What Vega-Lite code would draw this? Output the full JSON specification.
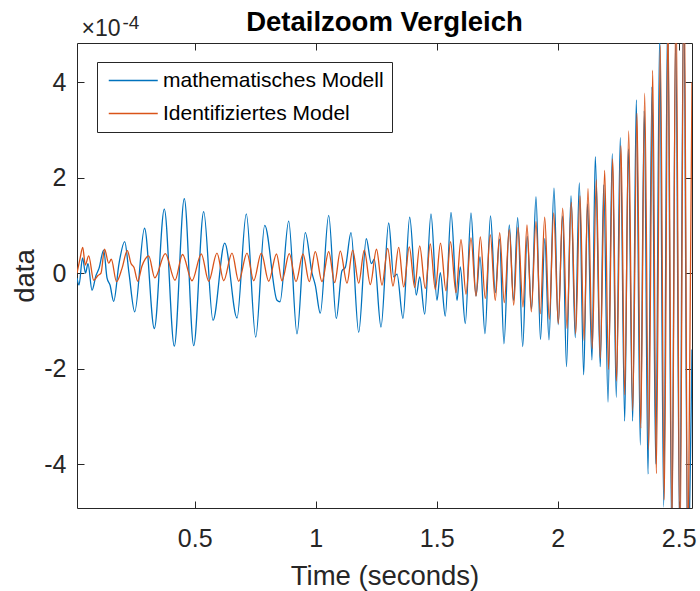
{
  "$schema": "https://vega.github.io/schema/vega-lite/v6.json",
  "width": 615,
  "height": 465,
  "autosize": {"type": "none"},
  "padding": {"left": 77, "top": 43, "right": 8, "bottom": 83},
  "background": "white",
  "config": {
    "font": "Liberation Sans",
    "view": {"stroke": "#262626", "strokeWidth": 1},
    "axis": {"grid": false, "domain": false, "ticks": true, "tickColor": "#262626", "tickSize": -7, "labelColor": "#262626", "titleColor": "#262626", "labelFontSize": 25, "titleFontSize": 27.5, "titleFontWeight": "normal", "labelFont": "Liberation Sans", "titleFont": "Liberation Sans"}
  },
  "title": {"text": "Detailzoom Vergleich", "fontSize": 27.5, "fontWeight": "bold", "color": "#000000", "anchor": "middle", "frame": "group", "offset": 12, "dy": 35},
  "datasets": {
    "modell": [
      {"time": 0.0136, "value": -0.10e-4}, {"time": 0.0219, "value": -0.25e-4}, {"time": 0.0364, "value": 0.32e-4}, {"time": 0.0488, "value": 0.00e-4},
      {"time": 0.0591, "value": 0.20e-4}, {"time": 0.0756, "value": -0.36e-4}, {"time": 0.0921, "value": -0.05e-4}, {"time": 0.1045, "value": 0.10e-4},
      {"time": 0.1240, "value": 0.48e-4}, {"time": 0.1376, "value": -0.10e-4}, {"time": 0.1500, "value": -0.25e-4}, {"time": 0.1653, "value": -0.59e-4},
      {"time": 0.1872, "value": 0.20e-4}, {"time": 0.2107, "value": 0.66e-4}, {"time": 0.2285, "value": 0.00e-4}, {"time": 0.2521, "value": -0.81e-4},
      {"time": 0.2926, "value": 0.94e-4}, {"time": 0.3331, "value": -1.16e-4}, {"time": 0.3744, "value": 1.34e-4}, {"time": 0.4157, "value": -1.53e-4},
      {"time": 0.4570, "value": 1.56e-4}, {"time": 0.4959, "value": -1.52e-4}, {"time": 0.5372, "value": 1.29e-4}, {"time": 0.5756, "value": -0.99e-4},
      {"time": 0.6240, "value": 0.63e-4}, {"time": 0.6748, "value": -0.94e-4}, {"time": 0.7132, "value": 1.24e-4}, {"time": 0.7521, "value": -1.34e-4},
      {"time": 0.7893, "value": 1.00e-4}, {"time": 0.8401, "value": -0.57e-4}, {"time": 0.8525, "value": -0.60e-4}, {"time": 0.8884, "value": 1.09e-4},
      {"time": 0.9227, "value": -1.27e-4}, {"time": 0.9570, "value": 0.85e-4}, {"time": 0.9847, "value": 0.00e-4}, {"time": 0.9983, "value": -0.25e-4},
      {"time": 1.0190, "value": -0.84e-4}, {"time": 1.0537, "value": 1.21e-4}, {"time": 1.0851, "value": -0.95e-4}, {"time": 1.1087, "value": 0.05e-4},
      {"time": 1.1223, "value": 0.12e-4}, {"time": 1.1459, "value": 0.85e-4}, {"time": 1.1777, "value": -1.24e-4}, {"time": 1.2091, "value": 0.72e-4},
      {"time": 1.2298, "value": 0.20e-4}, {"time": 1.2421, "value": 0.29e-4}, {"time": 1.2698, "value": -1.13e-4}, {"time": 1.3017, "value": 1.05e-4},
      {"time": 1.3223, "value": -0.08e-4}, {"time": 1.3360, "value": -0.02e-4}, {"time": 1.3607, "value": -0.95e-4}, {"time": 1.3884, "value": 1.17e-4},
      {"time": 1.4157, "value": -0.46e-4}, {"time": 1.4298, "value": -0.08e-4}, {"time": 1.4504, "value": -0.86e-4}, {"time": 1.4764, "value": 1.24e-4},
      {"time": 1.5012, "value": -0.57e-4}, {"time": 1.5149, "value": 0.01e-4}, {"time": 1.5355, "value": -0.90e-4}, {"time": 1.5591, "value": 1.27e-4},
      {"time": 1.5839, "value": -0.57e-4}, {"time": 1.5975, "value": 0.13e-4}, {"time": 1.6182, "value": -1.06e-4}, {"time": 1.6417, "value": 1.26e-4},
      {"time": 1.6624, "value": -0.48e-4}, {"time": 1.6789, "value": 0.34e-4}, {"time": 1.6996, "value": -1.27e-4}, {"time": 1.7223, "value": 1.20e-4},
      {"time": 1.7421, "value": -0.41e-4}, {"time": 1.7595, "value": 0.71e-4}, {"time": 1.7781, "value": -1.48e-4}, {"time": 1.8000, "value": 1.01e-4},
      {"time": 1.8174, "value": -0.57e-4}, {"time": 1.8347, "value": 1.16e-4}, {"time": 1.8554, "value": -1.54e-4}, {"time": 1.8740, "value": 0.77e-4},
      {"time": 1.8917, "value": -0.75e-4}, {"time": 1.9103, "value": 1.60e-4}, {"time": 1.9289, "value": -1.39e-4}, {"time": 1.9467, "value": 0.72e-4},
      {"time": 1.9640, "value": -1.40e-4}, {"time": 1.9847, "value": 1.78e-4}, {"time": 2.0021, "value": -1.08e-4}, {"time": 2.0202, "value": 1.20e-4},
      {"time": 2.0364, "value": -1.96e-4}, {"time": 2.0550, "value": 1.62e-4}, {"time": 2.0727, "value": -1.35e-4}, {"time": 2.0893, "value": 1.89e-4},
      {"time": 2.1074, "value": -2.13e-4}, {"time": 2.1231, "value": 1.45e-4}, {"time": 2.1417, "value": -1.82e-4}, {"time": 2.1554, "value": 2.44e-4},
      {"time": 2.1760, "value": -1.96e-4}, {"time": 2.1901, "value": 1.85e-4}, {"time": 2.2079, "value": -2.70e-4}, {"time": 2.2256, "value": 2.50e-4},
      {"time": 2.2421, "value": -2.60e-4}, {"time": 2.2587, "value": 2.84e-4}, {"time": 2.2769, "value": -3.10e-4}, {"time": 2.2917, "value": 2.60e-4},
      {"time": 2.3099, "value": -3.10e-4}, {"time": 2.3248, "value": 3.63e-4}, {"time": 2.3413, "value": -3.60e-4}, {"time": 2.3579, "value": 3.40e-4},
      {"time": 2.3731, "value": -4.21e-4}, {"time": 2.3897, "value": 3.90e-4}, {"time": 2.4050, "value": -4.00e-4}, {"time": 2.4215, "value": 5.00e-4},
      {"time": 2.4380, "value": -4.90e-4}, {"time": 2.4545, "value": 5.50e-4}, {"time": 2.4711, "value": -5.50e-4}, {"time": 2.4876, "value": 5.00e-4},
      {"time": 2.5041, "value": -5.50e-4}, {"time": 2.5207, "value": 6.00e-4}, {"time": 2.5372, "value": -6.00e-4}, {"time": 2.5550, "value": -1.60e-4}
    ],
    "identifiziert": [
      {"time": 0.0136, "value": 0.00e-4}, {"time": 0.0260, "value": 0.30e-4}, {"time": 0.0372, "value": 0.54e-4}, {"time": 0.0479, "value": 0.17e-4},
      {"time": 0.0620, "value": 0.36e-4}, {"time": 0.0826, "value": -0.15e-4}, {"time": 0.1004, "value": -0.05e-4}, {"time": 0.1128, "value": 0.00e-4},
      {"time": 0.1273, "value": 0.50e-4}, {"time": 0.1446, "value": 0.21e-4}, {"time": 0.1554, "value": 0.29e-4}, {"time": 0.1769, "value": -0.18e-4},
      {"time": 0.1996, "value": 0.10e-4}, {"time": 0.2215, "value": 0.47e-4}, {"time": 0.2368, "value": 0.20e-4}, {"time": 0.2492, "value": 0.12e-4},
      {"time": 0.2645, "value": -0.17e-4}, {"time": 0.2822, "value": 0.15e-4}, {"time": 0.2959, "value": 0.30e-4}, {"time": 0.3099, "value": 0.36e-4},
      {"time": 0.3351, "value": -0.10e-4}, {"time": 0.3785, "value": 0.41e-4}, {"time": 0.4186, "value": -0.15e-4}, {"time": 0.4496, "value": 0.39e-4},
      {"time": 0.4888, "value": -0.16e-4}, {"time": 0.5273, "value": 0.40e-4}, {"time": 0.5579, "value": -0.17e-4}, {"time": 0.5921, "value": 0.42e-4},
      {"time": 0.6198, "value": -0.16e-4}, {"time": 0.6541, "value": 0.42e-4}, {"time": 0.6818, "value": -0.17e-4}, {"time": 0.7161, "value": 0.42e-4},
      {"time": 0.7438, "value": -0.16e-4}, {"time": 0.7752, "value": 0.42e-4}, {"time": 0.8058, "value": -0.17e-4}, {"time": 0.8380, "value": 0.40e-4},
      {"time": 0.8607, "value": -0.16e-4}, {"time": 0.8909, "value": 0.41e-4}, {"time": 0.9186, "value": -0.18e-4}, {"time": 0.9475, "value": 0.40e-4},
      {"time": 0.9736, "value": -0.18e-4}, {"time": 0.9983, "value": 0.45e-4}, {"time": 1.0260, "value": -0.18e-4}, {"time": 1.0537, "value": 0.45e-4},
      {"time": 1.0785, "value": -0.20e-4}, {"time": 1.1017, "value": 0.46e-4}, {"time": 1.1293, "value": -0.21e-4}, {"time": 1.1529, "value": 0.48e-4},
      {"time": 1.1777, "value": -0.21e-4}, {"time": 1.2008, "value": 0.48e-4}, {"time": 1.2256, "value": -0.24e-4}, {"time": 1.2512, "value": 0.50e-4},
      {"time": 1.2740, "value": -0.25e-4}, {"time": 1.2975, "value": 0.52e-4}, {"time": 1.3194, "value": -0.27e-4}, {"time": 1.3430, "value": 0.54e-4},
      {"time": 1.3636, "value": -0.29e-4}, {"time": 1.3868, "value": 0.55e-4}, {"time": 1.4091, "value": -0.30e-4}, {"time": 1.4298, "value": 0.57e-4},
      {"time": 1.4529, "value": -0.32e-4}, {"time": 1.4736, "value": 0.61e-4}, {"time": 1.4942, "value": -0.34e-4}, {"time": 1.5157, "value": 0.63e-4},
      {"time": 1.5384, "value": -0.37e-4}, {"time": 1.5570, "value": 0.66e-4}, {"time": 1.5798, "value": -0.41e-4}, {"time": 1.6004, "value": 0.70e-4},
      {"time": 1.6211, "value": -0.44e-4}, {"time": 1.6417, "value": 0.74e-4}, {"time": 1.6624, "value": -0.48e-4}, {"time": 1.6802, "value": 0.76e-4},
      {"time": 1.7008, "value": -0.53e-4}, {"time": 1.7215, "value": 0.80e-4}, {"time": 1.7421, "value": -0.57e-4}, {"time": 1.7603, "value": 0.85e-4},
      {"time": 1.7793, "value": -0.62e-4}, {"time": 1.8000, "value": 0.91e-4}, {"time": 1.8182, "value": -0.67e-4}, {"time": 1.8360, "value": 0.96e-4},
      {"time": 1.8566, "value": -0.71e-4}, {"time": 1.8731, "value": 1.01e-4}, {"time": 1.8909, "value": -0.81e-4}, {"time": 1.9103, "value": 1.08e-4},
      {"time": 1.9281, "value": -0.85e-4}, {"time": 1.9463, "value": 1.17e-4}, {"time": 1.9653, "value": -0.97e-4}, {"time": 1.9835, "value": 1.26e-4},
      {"time": 2.0025, "value": -1.06e-4}, {"time": 2.0207, "value": 1.36e-4}, {"time": 2.0384, "value": -1.16e-4}, {"time": 2.0562, "value": 1.48e-4},
      {"time": 2.0744, "value": -1.27e-4}, {"time": 2.0921, "value": 1.62e-4}, {"time": 2.1087, "value": -1.41e-4}, {"time": 2.1252, "value": 1.77e-4},
      {"time": 2.1430, "value": -1.58e-4}, {"time": 2.1595, "value": 1.95e-4}, {"time": 2.1760, "value": -1.79e-4}, {"time": 2.1942, "value": 2.15e-4},
      {"time": 2.2099, "value": -2.02e-4}, {"time": 2.2273, "value": 2.39e-4}, {"time": 2.2430, "value": -2.26e-4}, {"time": 2.2616, "value": 2.67e-4},
      {"time": 2.2769, "value": -2.55e-4}, {"time": 2.2934, "value": 2.98e-4}, {"time": 2.3099, "value": -2.88e-4}, {"time": 2.3277, "value": 3.35e-4},
      {"time": 2.3430, "value": -3.25e-4}, {"time": 2.3595, "value": 3.77e-4}, {"time": 2.3760, "value": -3.70e-4}, {"time": 2.3926, "value": 4.25e-4},
      {"time": 2.4074, "value": -4.20e-4}, {"time": 2.4240, "value": 4.77e-4}, {"time": 2.4405, "value": -4.75e-4}, {"time": 2.4558, "value": 5.30e-4},
      {"time": 2.4723, "value": -5.30e-4}, {"time": 2.4888, "value": 5.90e-4}, {"time": 2.5054, "value": -5.90e-4}, {"time": 2.5219, "value": 6.50e-4},
      {"time": 2.5384, "value": -6.50e-4}, {"time": 2.5550, "value": 4.00e-4}
    ]
  },
  "layer": [
    {
      "data": {"name": "modell"},
      "mark": {"type": "line", "interpolate": "monotone", "strokeWidth": 1.3, "clip": true},
      "encoding": {
        "x": {"field": "time", "type": "quantitative", "scale": {"domain": [0.0136, 2.555], "nice": false, "zero": false},
              "axis": {"values": [0.5, 1, 1.5, 2, 2.5], "format": "~g", "title": "Time (seconds)", "labelPadding": 25, "titlePadding": 11}},
        "y": {"field": "value", "type": "quantitative", "scale": {"domain": [-4.92e-4, 4.82e-4], "nice": false, "zero": false},
              "axis": {"values": [-4e-4, -2e-4, 0, 2e-4, 4e-4], "labelExpr": "'' + round(datum.value * 10000)", "title": "data", "labelPadding": 18, "titlePadding": 4}},
        "color": {"datum": "mathematisches Modell", "type": "nominal",
                  "scale": {"domain": ["mathematisches Modell", "Identifiziertes Model"], "range": ["#0072BD", "#D95319"]},
                  "legend": {"orient": "none", "legendX": 20, "legendY": 19, "title": null, "symbolType": "M-1.1,0H6.9", "symbolSize": 150, "symbolStrokeWidth": 1.3, "labelFontSize": 21, "labelLimit": 500, "labelColor": "#000000", "labelFont": "Liberation Sans", "strokeColor": "#262626", "fillColor": "white", "padding": 8, "rowPadding": 11, "labelOffset": 37}}
      }
    },
    {
      "data": {"name": "identifiziert"},
      "mark": {"type": "line", "interpolate": "monotone", "strokeWidth": 1.3, "clip": true},
      "encoding": {
        "x": {"field": "time", "type": "quantitative",
              "axis": {"orient": "top", "values": [0.5, 1, 1.5, 2, 2.5], "labels": false, "title": "×10", "titleFontSize": 23, "titleX": 4, "titleY": -8, "titleAlign": "left", "titleBaseline": "alphabetic", "titleAngle": 0}},
        "y": {"field": "value", "type": "quantitative",
              "axis": {"orient": "right", "values": [-4e-4, -2e-4, 0, 2e-4, 4e-4], "labels": false, "title": "-4", "titleFontSize": 19, "titleX": -570, "titleY": -15, "titleAlign": "left", "titleBaseline": "alphabetic", "titleAngle": 0}},
        "color": {"datum": "Identifiziertes Model", "type": "nominal"}
      }
    }
  ],
  "resolve": {"axis": {"x": "independent", "y": "independent"}}
}
